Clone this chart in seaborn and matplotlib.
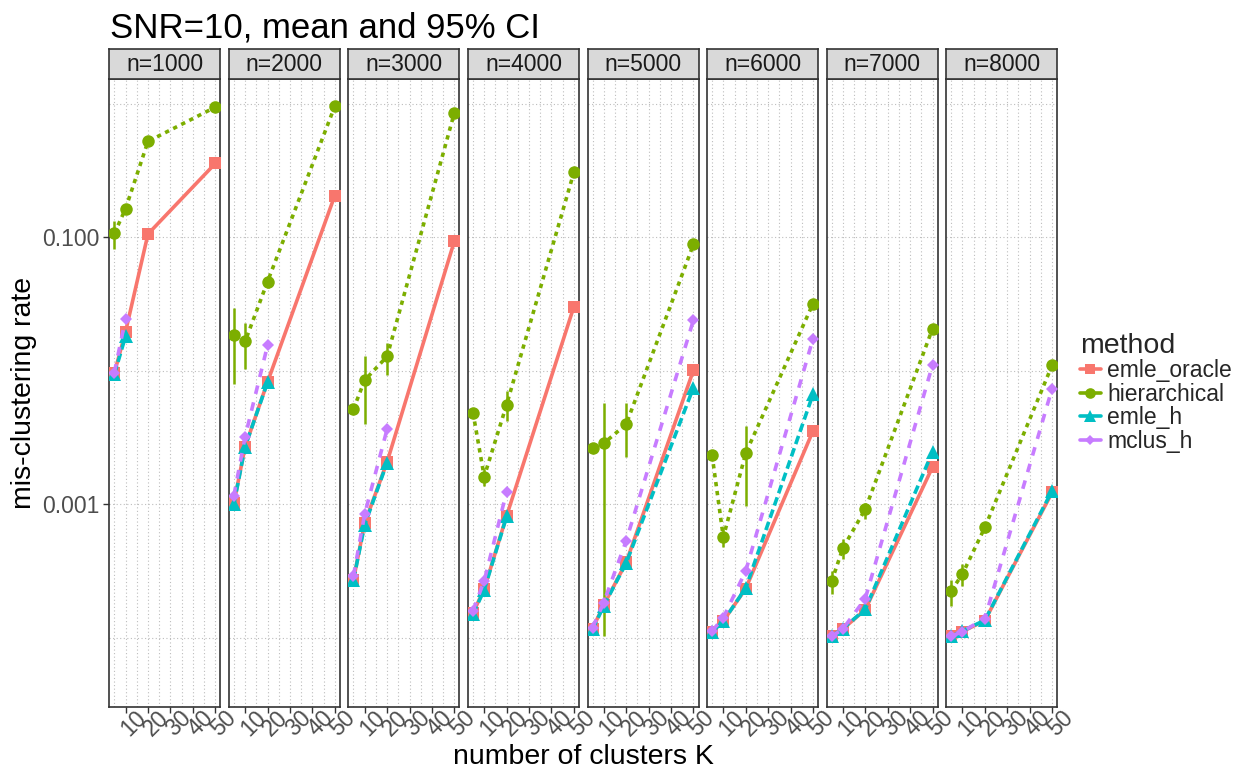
import numpy as np
import pandas as pd
import matplotlib
matplotlib.use("Agg")
import matplotlib.pyplot as plt
from matplotlib.lines import Line2D
from matplotlib.ticker import FixedLocator, NullFormatter
import seaborn as sns

# ---------------- data ----------------
n_values = [1000, 2000, 3000, 4000, 5000, 6000, 7000, 8000]
K_values = [5, 10, 20, 50]
methods = ["emle_oracle", "hierarchical", "emle_h", "mclus_h"]
nan = np.nan

# rows: n, columns: K
emle_oracle = [
    [0.0096, 0.0196, 0.106, 0.358],
    [0.00102, 0.0027, 0.00824, 0.206],
    [0.000271, 0.00072, 0.00207, 0.0938],
    [0.000153, 0.000231, 0.000818, 0.0303],
    [0.000117, 0.000175, 0.000366, 0.0101],
    [0.000111, 0.000133, 0.000233, 0.00354],
    [0.000103, 0.000116, 0.000162, 0.0019],
    [0.000102, 0.000111, 0.000134, 0.001225],
]
hierarchical = [
    [0.107, 0.164, 0.524, 0.946],
    [0.0187, 0.0166, 0.0466, 0.963],
    [0.00515, 0.0085, 0.0128, 0.859],
    [0.00486, 0.00161, 0.00558, 0.308],
    [0.00263, 0.00286, 0.00397, 0.0887],
    [0.00233, 0.000566, 0.00241, 0.0319],
    [0.000264, 0.000468, 0.000918, 0.0207],
    [0.000224, 0.000299, 0.000669, 0.011],
]
emle_h = [
    [0.0094, 0.0182, nan, nan],
    [0.0010, 0.0027, 0.0082, nan],
    [0.00027, 0.0007, 0.00205, nan],
    [0.00015, 0.000228, 0.00081, nan],
    [0.000115, 0.000173, 0.000362, 0.00749],
    [0.00011, 0.000133, 0.000235, 0.00667],
    [0.000102, 0.000117, 0.000163, 0.00247],
    [0.000102, 0.000112, 0.000135, 0.00126],
]
mclus_h = [
    [0.0097, 0.0246, nan, nan],
    [0.00116, 0.0032, 0.0155, nan],
    [0.00029, 0.00084, 0.00365, nan],
    [0.000159, 0.000267, 0.00124, nan],
    [0.000119, 0.000183, 0.000532, 0.024],
    [0.000112, 0.000141, 0.000316, 0.0174],
    [0.000102, 0.000116, 0.000196, 0.0111],
    [0.000102, 0.000111, 0.000139, 0.00736],
]
# 95% CI of hierarchical
hier_lo = [
    [0.0813, 0.153, 0.51, 0.93],
    [0.00792, 0.01026, 0.042, 0.95],
    [0.0049, 0.00399, 0.00925, 0.84],
    [0.0046, 0.00137, 0.00421, 0.30],
    [0.0025, 0.000103, 0.00224, 0.086],
    [0.0022, 0.000474, 0.00097, 0.031],
    [0.000212, 0.000387, 0.000773, 0.0196],
    [0.000173, 0.000244, 0.00061, 0.0102],
]
hier_hi = [
    [0.132, 0.178, 0.54, 0.96],
    [0.0297, 0.023, 0.0513, 0.975],
    [0.0054, 0.0129, 0.01626, 0.875],
    [0.0051, 0.00183, 0.00706, 0.315],
    [0.00275, 0.00571, 0.00571, 0.091],
    [0.00245, 0.00065, 0.00386, 0.033],
    [0.000316, 0.000553, 0.00102, 0.0218],
    [0.000271, 0.000356, 0.00073, 0.0118],
]

# ---------------- long table ----------------
rows = []
series = {"emle_oracle": emle_oracle, "hierarchical": hierarchical,
          "emle_h": emle_h, "mclus_h": mclus_h}
for m in methods:
    for i, n in enumerate(n_values):
        for j, k in enumerate(K_values):
            v = series[m][i][j]
            if not np.isnan(v):
                lo = hier_lo[i][j] if m == "hierarchical" else v
                hi = hier_hi[i][j] if m == "hierarchical" else v
                rows.append(dict(n=n, K=k, method=m, rate=v, lo=lo, hi=hi))
df = pd.DataFrame(rows)

# ---------------- style ----------------
sns.set_style("white")
plt.rcParams["font.family"] = ["Liberation Sans", "DejaVu Sans"]

palette = {"emle_oracle": "#F8766D", "hierarchical": "#7CAE00",
           "emle_h": "#00BFC4", "mclus_h": "#C77CFF"}
markers = {"emle_oracle": "s", "hierarchical": "o", "emle_h": "^", "mclus_h": "D"}
dashes = {"emle_oracle": "", "hierarchical": (1.2, 1.3),
          "emle_h": (2.4, 1.2), "mclus_h": (2.4, 2.4)}
msizes = {"s": 9.0, "o": 9.0, "^": 9.5, "D": 6.3}
LW = 2.6

W, H = 1241, 770
fig = plt.figure(figsize=(W / 100, H / 100), dpi=100)

tick_fs = 16.5
axis_fs = 20.5
grey_txt = "#4D4D4D"
border = "#333333"

p_left0, p_step, p_w = 109.3, 119.55, 111.0
p_top, p_bot = 79.3, 706.7
s_top = 48.7

ylo, yhi = 10 ** -4.518, 10 ** 0.185

axes = []
for i, n in enumerate(n_values):
    x0 = p_left0 + i * p_step
    ax = fig.add_axes([x0 / W, (H - p_bot) / H, p_w / W, (p_bot - p_top) / H])
    axes.append(ax)
    sub = df[df.n == n]
    # CI bars
    for m in methods:
        s = sub[sub.method == m]
        ax.vlines(s.K, s.lo, s.hi, color=palette[m], linewidth=1.8, zorder=2)
    sns.lineplot(data=sub, x="K", y="rate", hue="method", style="method",
                 hue_order=methods, style_order=methods, palette=palette,
                 markers=markers, dashes=dashes, ax=ax, legend=False,
                 errorbar=None, linewidth=LW, markeredgewidth=0, zorder=3)
    for ln in ax.lines:
        mk = ln.get_marker()
        if mk in msizes:
            ln.set_markersize(msizes[mk])

    ax.set_yscale("log")
    ax.set_ylim(ylo, yhi)
    ax.set_xlim(2.75, 52.25)
    ax.xaxis.set_major_locator(FixedLocator([10, 20, 30, 40, 50]))
    ax.xaxis.set_minor_locator(FixedLocator([5, 15, 25, 35, 45]))
    ax.yaxis.set_major_locator(FixedLocator([0.1, 0.001]))
    ax.yaxis.set_minor_locator(FixedLocator([1, 0.01, 0.0001]))
    ax.yaxis.set_minor_formatter(NullFormatter())
    ax.set_xticklabels([])
    ax.set_xlabel("")
    ax.set_ylabel("")
    ax.set_axisbelow(True)
    ax.grid(True, which="both", linestyle=(0, (1, 2.2)), color="#BDBDBD",
            linewidth=0.8)
    ax.tick_params(which="minor", length=0)
    ax.tick_params(axis="x", which="major", length=4, width=1, color=border,
                   direction="out", bottom=True)
    if i == 0:
        ax.set_yticklabels(["0.100", "0.001"], fontsize=tick_fs, color=grey_txt)
        ax.tick_params(axis="y", which="major", length=4, width=1, color=border,
                       direction="out", left=True, pad=3)
    else:
        ax.set_yticklabels([])
        ax.tick_params(axis="y", which="major", length=0)
    for sp in ax.spines.values():
        sp.set_color(border)
        sp.set_linewidth(1.2)
    # rotated x tick labels
    for k in [10, 20, 30, 40, 50]:
        ax.annotate(str(k), xy=(k, 0), xycoords=("data", "axes fraction"),
                    xytext=(0, -6), textcoords="offset points",
                    rotation=45, rotation_mode="anchor", ha="center", va="top",
                    fontsize=tick_fs, color=grey_txt)

    # strip
    sax = fig.add_axes([x0 / W, (H - p_top) / H, p_w / W, (p_top - s_top) / H])
    sax.set_facecolor("#D9D9D9")
    sax.set_xticks([])
    sax.set_yticks([])
    for sp in sax.spines.values():
        sp.set_color(border)
        sp.set_linewidth(1.2)
    sax.text(0.5, 0.47, f"n={n}", ha="center", va="center",
             fontsize=tick_fs, color="#1A1A1A", transform=sax.transAxes)

# titles
fig.text(110 / W, 1 - 38 / H, "SNR=10, mean and 95% CI", fontsize=25,
         ha="left", va="baseline", color="black")
fig.text(24 / W, 1 - 393 / H, "mis-clustering rate", fontsize=axis_fs,
         rotation=90, ha="center", va="center", color="black")
fig.text(583 / W, 1 - 757 / H, "number of clusters K", fontsize=axis_fs,
         ha="center", va="center", color="black")

# legend
handles = []
for m in methods:
    mk = markers[m]
    handles.append(Line2D([0], [0], color=palette[m], marker=mk,
                          markersize=msizes[mk] * 0.85, markeredgewidth=0,
                          linewidth=LW, linestyle="-"))
leg = fig.legend(handles, methods, loc="upper left",
                 bbox_to_anchor=(1080 / W, 1 - 333 / H), frameon=False,
                 fontsize=tick_fs, title="method", title_fontsize=axis_fs,
                 handlelength=0.9, handletextpad=0.3, labelspacing=0.02,
                 borderpad=0, borderaxespad=0, alignment="left")

fig.savefig("out.png", dpi=100)
